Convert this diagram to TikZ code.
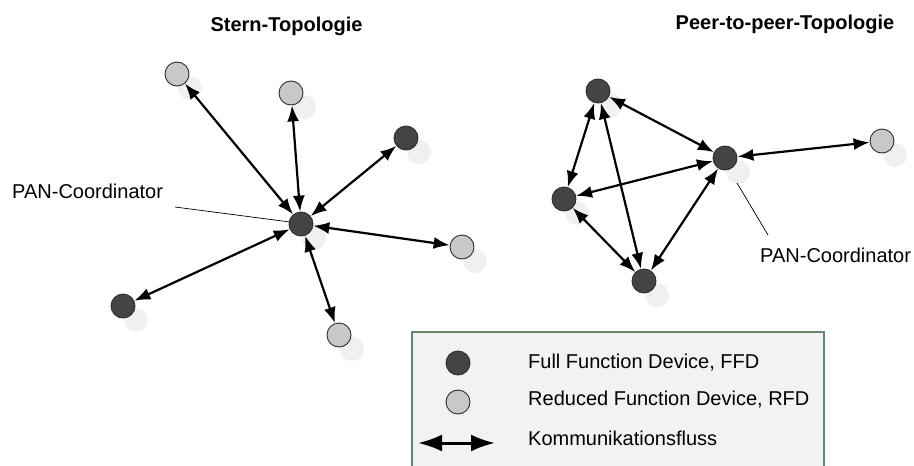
\documentclass[tikz,border=0pt]{standalone}
\usepackage{fontspec}
\setmainfont{Liberation Sans}
\usetikzlibrary{arrows.meta,shadows}

\definecolor{ffdfill}{HTML}{444444}
\definecolor{rfdfill}{HTML}{C8C8C8}
\definecolor{devborder}{HTML}{2E2E2E}
\definecolor{shadowgray}{HTML}{F0F0F0}
\definecolor{legendfill}{HTML}{F2F2F2}
\definecolor{legendborder}{HTML}{66866C}

\tikzset{
  device/.style={circle, draw=devborder, line width=0.9pt, minimum size=24pt, inner sep=0pt},
  shaded/.style={drop shadow={shadow xshift=13pt, shadow yshift=-14pt, fill=shadowgray, opacity=1}},
  ffd/.style={device, fill=ffdfill},
  rfd/.style={device, fill=rfdfill},
  flow/.style={line width=2.2pt, {Latex[length=16pt,width=12pt]}-{Latex[length=16pt,width=12pt]}},
  bigflow/.style={line width=3pt, {Latex[length=24pt,width=17pt]}-{Latex[length=24pt,width=17pt]}},
  label/.style={font=\fontsize{20pt}{24pt}\selectfont, inner sep=0pt},
  title/.style={font=\fontsize{20pt}{24pt}\selectfont\bfseries, inner sep=0pt},
  pointer/.style={line width=0.7pt, black},
}

\begin{document}
\begin{tikzpicture}[x=1pt, y=-1pt]
  \useasboundingbox (0,0) rectangle (914,466);

  % headings
  \node[title, anchor=base] (t1) at (286.5,31) {Stern-Topologie};
  \node[title, anchor=base] (t2) at (785,29) {Peer-to-peer-Topologie};

  % star topology
  \node[ffd, shaded] (c0) at (301,224) {};
  \node[rfd, shaded] (s1) at (177,74) {};
  \node[rfd, shaded] (s2) at (291,93) {};
  \node[ffd, shaded] (s3) at (406,138) {};
  \node[rfd, shaded] (s4) at (462,247) {};
  \node[rfd, shaded] (s5) at (339,335) {};
  \node[ffd, shaded] (s6) at (123,306) {};
  \foreach \n in {s1,s2,s3,s4,s5,s6} \draw[flow] (c0) -- (\n);

  \node[label, anchor=base west] (lc) at (12,198) {PAN-Coordinator};
  \coordinate (lcend) at (175,207);
  \draw[pointer] (lcend) -- (c0.170);

  % peer-to-peer topology
  \node[ffd, shaded] (p0) at (725,158) {};
  \node[ffd, shaded] (p1) at (598,91) {};
  \node[ffd, shaded] (p2) at (564,199) {};
  \node[ffd, shaded] (p3) at (644,281) {};
  \node[rfd, shaded] (p4) at (882,141) {};
  \draw[flow] (p1) -- (p0);
  \draw[flow] (p1) -- (p2);
  \draw[flow] (p1) -- (p3);
  \draw[flow] (p2) -- (p0);
  \draw[flow] (p2) -- (p3);
  \draw[flow] (p3) -- (p0);
  \draw[flow] (p0) -- (p4);

  \node[label, anchor=base west] (lp) at (760,262) {PAN-Coordinator};
  \coordinate (lpstart) at (737,183);
  \coordinate (lpend) at (768,235);
  \draw[pointer] (lpstart) -- (lpend);

  % legend
  \draw[legendborder, fill=legendfill, line width=1.2pt] (412,332) rectangle (824,480);
  \node[ffd] (kf) at (458,363) {};
  \node[rfd] (kr) at (458,402) {};
  \coordinate (ka) at (418,443);
  \coordinate (kb) at (495,443);
  \draw[bigflow] (ka) -- (kb);
  \node[label, anchor=base west] (tf) at (528,368) {Full Function Device, FFD};
  \node[label, anchor=base west] (tr) at (528,405) {Reduced Function Device, RFD};
  \node[label, anchor=base west] (tk) at (528,445) {Kommunikationsfluss};
\end{tikzpicture}
\end{document}
